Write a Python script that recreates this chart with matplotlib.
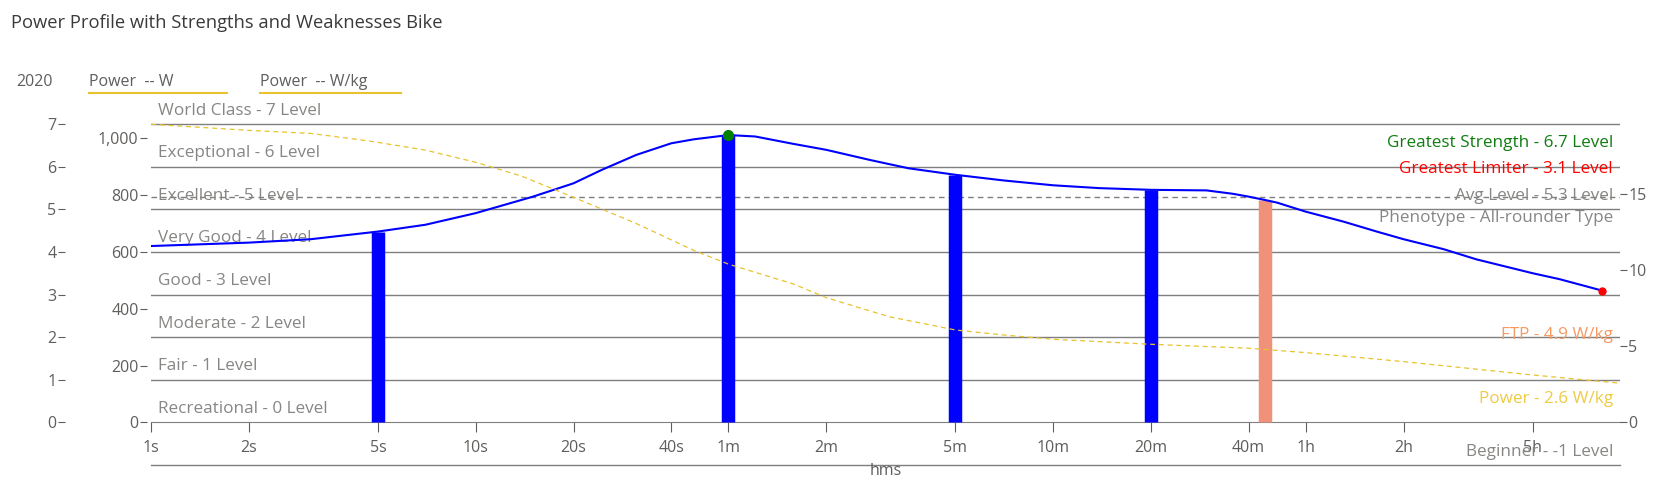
import matplotlib
matplotlib.use("Agg")
import matplotlib.pyplot as plt
import matplotlib.transforms as mtransforms
from matplotlib.lines import Line2D
from matplotlib.ticker import FuncFormatter

plt.rcParams['font.family'] = ['Open Sans', 'DejaVu Sans']

# power curve (seconds, watts)
curve_t = [1, 2, 3.1, 5, 7, 10, 15, 20, 24.4, 31.2, 40, 46.9, 60, 72.5, 95, 120, 164, 215,
           300, 423, 600, 833, 1200, 1780, 2147, 2400, 2700, 2933, 3600, 4700, 5950, 7200,
           9555, 12068, 18000, 21800, 29400]
curve_w = [621, 633, 645, 672, 696, 737, 795, 842, 889, 942, 983, 997, 1012, 1007, 981, 960,
           924, 895, 872, 852, 835, 825, 819, 817, 805, 795, 783, 774, 742, 707, 672, 645,
           610, 574, 525, 504, 464]

# power curve in W/kg (dashed yellow)
wkg_t = [1, 2, 3.1, 4.7, 7, 10, 13.8, 20, 31, 47, 60, 95, 120, 187, 300, 423, 600, 1200,
         2400, 3600, 7200, 18000, 33400]
wkg_v = [19.6, 19.2, 19.0, 18.5, 17.9, 17.1, 16.2, 14.8, 13.1, 11.3, 10.4, 9.1, 8.2, 6.95,
         6.07, 5.74, 5.46, 5.13, 4.87, 4.58, 3.99, 3.11, 2.57]

# key durations
bar_t = [5, 60, 300, 1200, 2700]
bar_w = [672, 1012, 872, 819, 783]
bar_colors = ['#0000FF', '#0000FF', '#0000FF', '#0000FF', '#F0917A']

levels = [7, 6, 5, 4, 3, 2, 1, 0]
level_names = ['World Class - 7 Level', 'Exceptional - 6 Level', 'Excellent - 5 Level',
               'Very Good - 4 Level', 'Good - 3 Level', 'Moderate - 2 Level',
               'Fair - 1 Level', 'Recreational - 0 Level']
avg_level = 5.3

xtick_t = [1, 2, 5, 10, 20, 40, 60, 120, 300, 600, 1200, 2400, 3600, 7200, 18000]
xtick_lbl = ['1s', '2s', '5s', '10s', '20s', '40s', '1m', '2m', '5m', '10m', '20m', '40m',
             '1h', '2h', '5h']

W_PER_LEVEL = 150
WKG_PER_LEVEL = 2.8
GRAY = '#7F7F7F'
LBL = '#888684'
TXT = '#605E5C'
YEL = '#E8C32E'
FS = 11.5
FL = 12.3

fig = plt.figure(figsize=(16.8, 4.93), dpi=100)
ax = fig.add_axes([0.0899, 0.0571, 0.8744, 0.734])
ax.set_xscale('log')
ax.set_xlim(1, 33400)
ax.set_ylim(-1, 7.5)

axw = ax.twinx()
axw.set_ylim(-1 * W_PER_LEVEL, 7.5 * W_PER_LEVEL)
axk = ax.twinx()
axk.set_ylim(-1 * WKG_PER_LEVEL, 7.5 * WKG_PER_LEVEL)

for a in (ax, axw, axk):
    for s in ['top', 'right', 'left']:
        a.spines[s].set_visible(False)
    a.tick_params(colors=TXT, labelsize=FS, length=5, width=0.8)
axw.spines['bottom'].set_visible(False)
axk.spines['bottom'].set_visible(False)

# level axis (far left)
ax.yaxis.tick_left()
ax.spines['left'].set_position(('outward', 62))
ax.set_yticks(range(0, 8))
ax.tick_params(axis='y', pad=1)

# watt axis
axw.yaxis.tick_left()
axw.spines['left'].set_position(('outward', 3))
axw.set_yticks([0, 200, 400, 600, 800, 1000])
axw.yaxis.set_major_formatter(FuncFormatter(lambda v, p: f'{v:,.0f}'))
axw.tick_params(axis='y', pad=1)

# W/kg axis
axk.yaxis.tick_right()
axk.set_yticks([0, 5, 10, 15])
axk.tick_params(axis='y', pad=1)

# x axis at level 0
ax.spines['bottom'].set_position(('data', 0))
ax.spines['bottom'].set_color(GRAY)
ax.set_xticks(xtick_t)
ax.set_xticklabels(xtick_lbl)
ax.minorticks_off()
ax.tick_params(axis='x', length=7, pad=6)

# level lines and labels
tx = mtransforms.blended_transform_factory(ax.transAxes, ax.transData)
for lv, name in zip(levels, level_names):
    if lv > 0:
        ax.axhline(lv, color=GRAY, lw=1.0, zorder=1)
    ax.text(0.0048, lv + 0.32, name, transform=tx, color=LBL, fontsize=FL,
            ha='left', va='center')
ax.axhline(-1, color=GRAY, lw=1.0, clip_on=False)
ax.text(0.9952, -0.69, 'Beginner - -1 Level', transform=tx, color=LBL, fontsize=FL,
        ha='right', va='center')
ax.axhline(avg_level, color=GRAY, lw=1.0, ls=(0, (4, 3)))
ax.text(0.5, -1.15, 'hms', transform=tx, color=TXT, fontsize=FS, ha='center', va='center')

# right side notes
ax.text(0.9952, 6.55, 'Greatest Strength - 6.7 Level', transform=tx, color='#107C10',
        fontsize=FL, ha='right', va='center')
ax.text(0.9952, 5.94, 'Greatest Limiter - 3.1 Level', transform=tx, color='#FF0000',
        fontsize=FL, ha='right', va='center')
ax.text(0.9952, 5.32, 'Avg Level - 5.3 Level', transform=tx, color=LBL,
        fontsize=FL, ha='right', va='center')
ax.text(0.9952, 4.79, 'Phenotype - All-rounder Type', transform=tx, color=LBL,
        fontsize=FL, ha='right', va='center')
ax.text(0.9952, 2.05, 'FTP - 4.9 W/kg', transform=tx, color='#F59A62',
        fontsize=FL, ha='right', va='center')
ax.text(0.9952, 0.54, 'Power - 2.6 W/kg', transform=tx, color='#EDCB45',
        fontsize=FL, ha='right', va='center')

# bars, curves, markers
axw.vlines(bar_t, 0, bar_w, colors=bar_colors, lw=9.7, capstyle='butt', zorder=2)
axw.plot(curve_t, curve_w, color='#0000FF', lw=1.5, zorder=3)
axk.plot(wkg_t, wkg_v, color=YEL, lw=0.9, ls=(0, (4, 3)), zorder=2)
axw.plot(curve_t[curve_w.index(max(curve_w))], max(curve_w), 'o', color='#008000', ms=7, zorder=4)
axw.plot(curve_t[-1], curve_w[-1], 'o', color='#FF0000', ms=5, zorder=4)

# header
fig.text(0.00655, 0.954, 'Power Profile with Strengths and Weaknesses Bike', fontsize=13.2,
         color='#3B3A39', ha='left', va='center')
fig.text(0.0095, 0.834, '2020', fontsize=FS, color=TXT, ha='left', va='center')
fig.text(0.0530, 0.834, 'Power  -- W', fontsize=FS, color=TXT, ha='left', va='center')
fig.text(0.1548, 0.834, 'Power  -- W/kg', fontsize=FS, color=TXT, ha='left', va='center')
fig.add_artist(Line2D([0.0530, 0.1351], [0.812, 0.812], color=YEL, lw=1.5))
fig.add_artist(Line2D([0.1548, 0.2387], [0.812, 0.812], color=YEL, lw=1.5))

fig.savefig('out.png', dpi=100)
